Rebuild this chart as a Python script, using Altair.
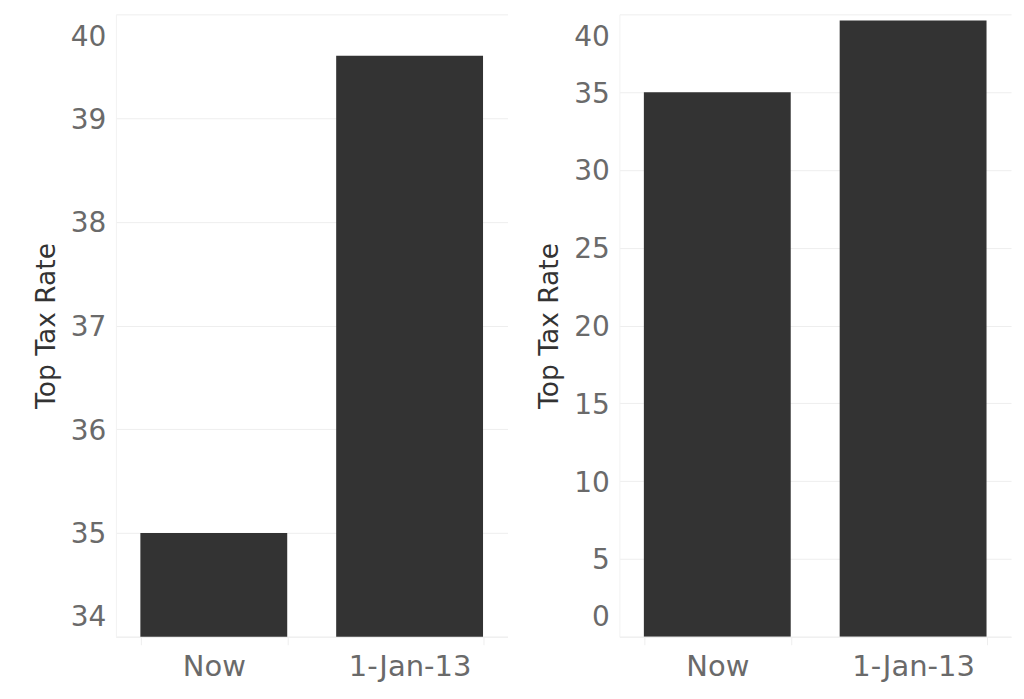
import altair as alt
import pandas as pd

categories = ["Now", "1-Jan-13"]
rates = [35.0, 39.6]
left_ticks = [34, 35, 36, 37, 38, 39, 40]
right_ticks = [0, 5, 10, 15, 20, 25, 30, 35, 40]

df = pd.DataFrame({"period": categories, "rate": rates})

FONT = "DejaVu Sans"
GRID = "#eeeeee"
LABEL = "#6a6a6a"


def panel(domain, ticks):
    return (
        alt.Chart(df)
        .mark_bar(color="#333333", clip=True)
        .encode(
            x=alt.X(
                "period:N",
                sort=categories,
                title=None,
                scale=alt.Scale(paddingInner=0.25, paddingOuter=0.125),
                axis=alt.Axis(
                    labelAngle=0,
                    labelFontSize=29,
                    labelColor=LABEL,
                    labelFont=FONT,
                    labelPadding=8,
                    tickBand="extent",
                    ticks=True,
                    tickSize=8,
                    tickColor="#eeeeee",
                    domainColor="#eeeeee",
                    grid=False,
                ),
            ),
            y=alt.Y(
                "rate:Q",
                title="Top Tax Rate",
                scale=alt.Scale(domain=domain, zero=False, nice=False),
                axis=alt.Axis(
                    values=ticks,
                    labelFontSize=28,
                    labelColor=LABEL,
                    labelFont=FONT,
                    labelFlush=True,
                    labelFlushOffset=-7,
                    labelOffset=2,
                    labelPadding=10,
                    ticks=False,
                    domainColor="#f2f2f2",
                    grid=True,
                    gridColor=GRID,
                    titleFont=FONT,
                    titleFontSize=26.5,
                    titleFontWeight="normal",
                    titleColor="#333333",
                    titlePadding=10,
                ),
            ),
        )
        .properties(width=392, height=623)
    )


left = panel([34, 40], left_ticks)
right = panel([0, 40], right_ticks)

chart = (
    alt.hconcat(left, right, spacing=29)
    .properties(padding={"left": 25, "top": 6, "right": 5, "bottom": 5})
    .configure_view(stroke=None)
)

chart.save("out.html", embed_options={"renderer": "svg", "actions": False})
